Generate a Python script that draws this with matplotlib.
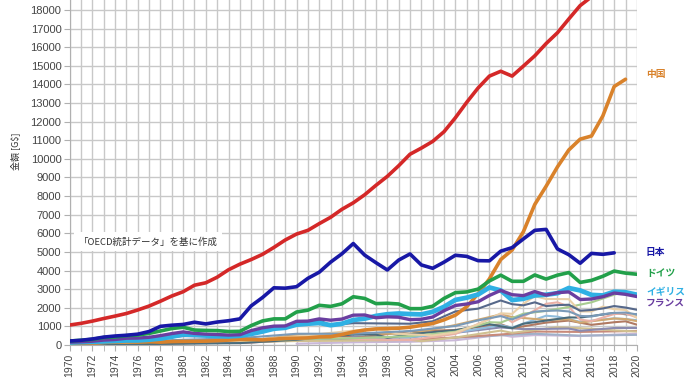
import matplotlib
matplotlib.use("Agg")
import matplotlib.pyplot as plt
import numpy as np

plt.rcParams['font.family'] = ['Noto Sans CJK JP', 'DejaVu Sans']

years = list(range(1970, 2021))

us = [1070, 1160, 1280, 1420, 1550, 1690, 1880, 2090, 2350, 2630,
      2860, 3210, 3340, 3640, 4040, 4340, 4590, 4870, 5240, 5640,
      5960, 6160, 6520, 6860, 7290, 7640, 8070, 8580, 9060, 9630,
      10250, 10580, 10940, 11460, 12210, 13040, 13810, 14450, 14710, 14450,
      14990, 15540, 16200, 16780, 17520, 18240, 18710, 19480, 20530, 21370]

china = [92, 93, 100, 140, 145, 165, 155, 175, 150, 180,
         190, 195, 205, 230, 260, 300, 290, 270, 310, 350,
         360, 380, 430, 440, 560, 700, 800, 860, 880, 900,
         950, 1050, 1150, 1350, 1600, 2050, 2750, 3550, 4590, 5100,
         6090, 7550, 8530, 9570, 10480, 11060, 11230, 12310, 13890, 14280]

japan = [210, 250, 320, 420, 480, 520, 580, 720, 1000, 1060,
         1100, 1220, 1130, 1230, 1300, 1400, 2100, 2550, 3070, 3050,
         3130, 3580, 3910, 4450, 4900, 5450, 4830, 4420, 4030, 4560,
         4890, 4300, 4120, 4450, 4820, 4760, 4530, 4520, 5040, 5230,
         5700, 6160, 6210, 5160, 4850, 4390, 4920, 4870, 4950]

germany = [210, 250, 300, 400, 430, 500, 530, 620, 750, 880,
           950, 800, 780, 770, 720, 730, 1040, 1290, 1400, 1400,
           1770, 1870, 2130, 2070, 2210, 2590, 2500, 2220, 2240, 2200,
           1950, 1950, 2080, 2500, 2810, 2850, 3000, 3440, 3750, 3420,
           3420, 3760, 3540, 3750, 3890, 3360, 3470, 3690, 3970, 3860, 3800]

uk = [130, 150, 170, 190, 210, 240, 240, 280, 340, 440,
      560, 540, 510, 480, 460, 490, 590, 720, 870, 920,
      1090, 1140, 1180, 1060, 1140, 1340, 1410, 1560, 1650, 1690,
      1660, 1640, 1780, 2050, 2420, 2540, 2710, 3090, 2930, 2410,
      2480, 2660, 2700, 2780, 3060, 2930, 2690, 2660, 2860, 2830, 2700]

france = [150, 170, 200, 260, 290, 360, 370, 410, 500, 610,
          700, 620, 580, 560, 530, 550, 770, 920, 1010, 1020,
          1270, 1280, 1400, 1330, 1390, 1600, 1610, 1460, 1510, 1490,
          1360, 1380, 1500, 1840, 2120, 2200, 2320, 2660, 2930, 2700,
          2650, 2870, 2680, 2810, 2850, 2440, 2470, 2590, 2790, 2720, 2600]

# minor countries: sparse yearly readings
italy_y = [1970, 1975, 1980, 1985, 1990, 1992, 1993, 1995, 2000, 2002, 2004, 2006, 2008, 2009, 2010, 2011, 2012, 2013, 2014, 2015, 2016, 2017, 2018, 2019, 2020]
italy_v = [110, 230, 475, 440, 1180, 1320, 1060, 1170, 1140, 1270, 1800, 1950, 2390, 2190, 2130, 2290, 2090, 2140, 2160, 1840, 1880, 1960, 2090, 2010, 1890]
canada_y = [1970, 1975, 1980, 1985, 1990, 1995, 2000, 2004, 2006, 2008, 2009, 2010, 2011, 2012, 2013, 2014, 2015, 2016, 2017, 2018, 2019, 2020]
canada_v = [90, 175, 275, 365, 600, 605, 745, 1020, 1320, 1550, 1370, 1610, 1790, 1830, 1850, 1800, 1560, 1530, 1650, 1720, 1740, 1640]
brazil_y = [1970, 1980, 1985, 1990, 1995, 1997, 1999, 2002, 2004, 2006, 2008, 2009, 2010, 2011, 2012, 2014, 2015, 2016, 2017, 2018, 2019, 2020]
brazil_v = [42, 235, 220, 460, 770, 880, 600, 510, 670, 1110, 1700, 1670, 2210, 2620, 2470, 2460, 1800, 1800, 2060, 1920, 1880, 1450]
india_y = [1970, 1980, 1985, 1990, 1995, 2000, 2004, 2007, 2008, 2010, 2012, 2014, 2016, 2018, 2019, 2020]
india_v = [63, 190, 235, 320, 360, 470, 710, 1220, 1200, 1680, 1830, 2040, 2290, 2700, 2870, 2660]
russia_y = [1992, 1995, 1998, 2000, 2004, 2008, 2009, 2010, 2012, 2013, 2014, 2015, 2016, 2018, 2019, 2020]
russia_v = [460, 330, 270, 260, 590, 1660, 1220, 1520, 2210, 2290, 2060, 1360, 1280, 1660, 1690, 1480]
korea_y = [1970, 1980, 1985, 1990, 1995, 1997, 1998, 2000, 2004, 2007, 2008, 2009, 2010, 2014, 2015, 2018, 2019, 2020]
korea_v = [9, 65, 100, 280, 560, 560, 380, 580, 790, 1120, 1000, 900, 1140, 1480, 1470, 1720, 1650, 1640]
spain_y = [1970, 1980, 1985, 1990, 1995, 2000, 2004, 2008, 2009, 2012, 2014, 2015, 2018, 2019, 2020]
spain_v = [40, 230, 180, 535, 615, 600, 1070, 1640, 1500, 1340, 1380, 1200, 1420, 1390, 1280]
australia_y = [1970, 1980, 1985, 1990, 1995, 2000, 2004, 2008, 2009, 2010, 2012, 2013, 2015, 2018, 2019, 2020]
australia_v = [45, 160, 180, 310, 370, 420, 660, 1060, 930, 1150, 1570, 1520, 1240, 1430, 1390, 1330]
mexico_y = [1970, 1980, 1982, 1985, 1990, 1994, 1995, 2000, 2004, 2008, 2009, 2012, 2014, 2016, 2018, 2019, 2020]
mexico_v = [40, 230, 180, 220, 320, 530, 360, 740, 800, 1110, 900, 1200, 1310, 1080, 1220, 1270, 1090]
nether_y = [1970, 1980, 1985, 1990, 1995, 2000, 2004, 2008, 2010, 2014, 2015, 2018, 2020]
nether_v = [50, 190, 140, 320, 450, 410, 650, 940, 850, 880, 760, 910, 910]
turkey_y = [1970, 1980, 1990, 1995, 2000, 2001, 2004, 2008, 2009, 2013, 2016, 2018, 2020]
turkey_v = [30, 95, 210, 230, 270, 200, 400, 770, 650, 950, 870, 780, 720]
swiss_y = [1970, 1980, 1985, 1990, 1995, 2000, 2004, 2008, 2011, 2015, 2020]
swiss_v = [25, 120, 100, 260, 340, 280, 400, 560, 720, 700, 750]
sweden_y = [1970, 1980, 1985, 1990, 1995, 2000, 2004, 2008, 2011, 2015, 2020]
sweden_v = [40, 140, 110, 260, 260, 260, 390, 520, 600, 500, 540]
poland_y = [1990, 1995, 2000, 2004, 2008, 2009, 2011, 2015, 2020]
poland_v = [65, 140, 170, 250, 540, 440, 530, 480, 600]

main = [
    (us, '#d42828', 2.6),
    (china, '#d9822b', 2.6),
    (uk, '#2fb0e4', 3.4),
    (france, '#6a3ea0', 2.4),
    (germany, '#22a04a', 2.6),
    (japan, '#1818a6', 2.6),
]
minor = [
    (poland_y, poland_v, '#c9b8d8'),
    (sweden_y, sweden_v, '#a0b0c8'),
    (swiss_y, swiss_v, '#c88a7a'),
    (turkey_y, turkey_v, '#d0c090'),
    (nether_y, nether_v, '#8a8ab0'),
    (mexico_y, mexico_v, '#b07a62'),
    (australia_y, australia_v, '#90bcdc'),
    (spain_y, spain_v, '#d0a870'),
    (korea_y, korea_v, '#4a6c7c'),
    (russia_y, russia_v, '#eab0a6'),
    (india_y, india_v, '#a8cc90'),
    (brazil_y, brazil_v, '#ead0a8'),
    (canada_y, canada_v, '#7a9ab8'),
    (italy_y, italy_v, '#56688a'),
]

fig = plt.figure(figsize=(6.9, 3.88), dpi=100)
ax = fig.add_axes([0.101, 0.111, 0.822, 0.889])

for yy, vv, c in minor:
    ax.plot(yy, vv, color=c, lw=1.5, solid_capstyle='round', zorder=2)
for vals, c, lw in main:
    ax.plot(years[:len(vals)], vals, color=c, lw=lw, solid_capstyle='round', zorder=3)

ax.set_xlim(1970, 2020)
ax.set_ylim(0, 18540)
ax.set_xticks(list(range(1970, 2021, 2)))
ax.set_xticks(years, minor=True)
ax.set_yticks(list(range(0, 18001, 1000)))
ax.grid(True, which='both', color='#c8c8c8', lw=1.0)
ax.set_axisbelow(True)
ax.tick_params(axis='x', which='both', length=4, color='#b0b0b0', labelrotation=90,
               labelsize=7.5, labelcolor='#444444', pad=2)
ax.tick_params(axis='y', length=4, color='#b0b0b0', labelsize=8, labelcolor='#444444', pad=2)
for lab in ax.get_xticklabels() + ax.get_yticklabels():
    lab.set_family(['Liberation Sans', 'DejaVu Sans'])
for s in ['top', 'right']:
    ax.spines[s].set_visible(False)
for s in ['left', 'bottom']:
    ax.spines[s].set_color('#b0b0b0')

fig.text(0.022, 0.61, '金額 [G$]', rotation=90, fontsize=6.5, color='#333333',
         ha='center', va='center')

ax.text(1976.9, 5540, '「OECD統計データ」を基に作成', fontsize=6.8, color='#333333',
        ha='center', va='center', zorder=5,
        bbox=dict(boxstyle='square,pad=0.5', fc='white', ec='none'))

labels = [('中国', 14570, '#d9822b'), ('日本', 5000, '#1818a6'),
          ('ドイツ', 3870, '#22a04a'), ('イギリス', 2850, '#2fb0e4'),
          ('フランス', 2260, '#6a3ea0')]
for t, v, c in labels:
    ax.text(2020.8, v, t, color=c, fontsize=7, fontweight='bold',
            ha='left', va='center', clip_on=False)

fig.savefig('out.png', dpi=100, facecolor='white')
